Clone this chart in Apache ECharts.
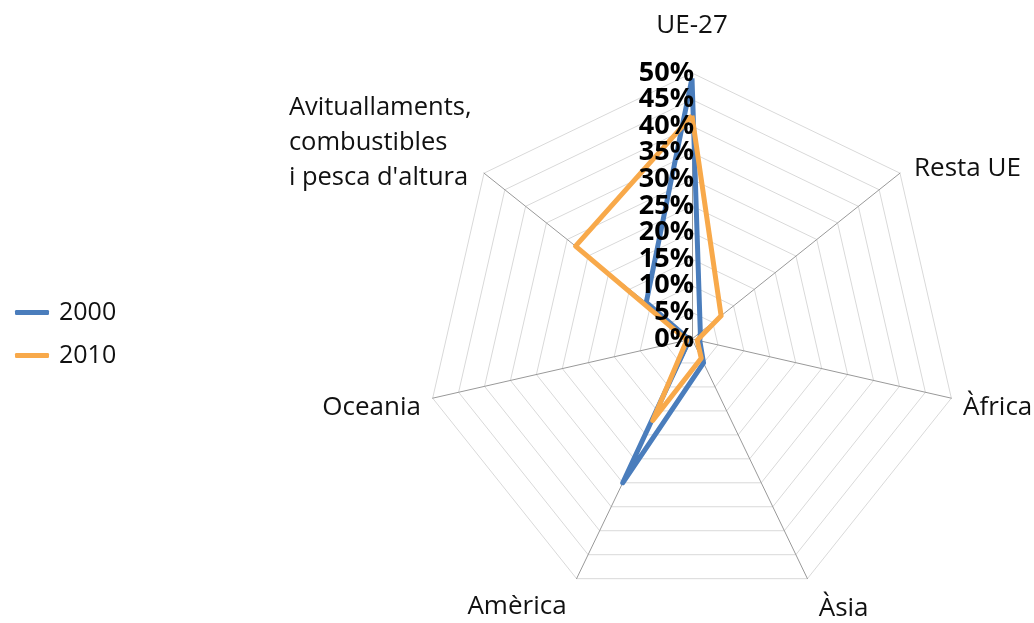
<!DOCTYPE html>
<html>
<head>
<meta charset="utf-8">
<script src="https://cdn.jsdelivr.net/npm/echarts@6/dist/echarts.min.js"></script>
<style>
html,body{margin:0;padding:0;background:#fff;}
#chart{width:1034px;height:623px;}
</style>
</head>
<body>
<div id="chart"></div>
<script>
// eixos en ordre horari, començant per dalt
var categories = ['UE-27', 'Resta UE', 'Àfrica', 'Àsia', 'Amèrica', 'Oceania', "Avituallaments,\ncombustibles\ni pesca d'altura"];
var years = ['2000', '2010'];
var data2000 = [49, 2, 1.5, 5, 30, 0.5, 11];
var data2010 = [42, 7, 1, 4, 17, 1, 28];
var tickMax = 50;
var tickStep = 5;

// distancia del nom a cada vertex (mateix ordre que categories)
var nameGaps = [30, 18, 12, 26, 23, 12, 16];

// echarts posa els indicadors en sentit antihorari: giro l'ordre
function toCcw(arr){
	var out = [arr[0]];
	for(var i=arr.length-1;i>0;i--){
		out.push(arr[i]);
	}
	return out;
}

var cats = toCcw(categories);
var gaps = toCcw(nameGaps);
var indicators = [];
for(var i=0;i<cats.length;i++){
	indicators.push({name:cats[i], min:0, max:tickMax, nameGap:gaps[i]});
}
function labelIndicators(){
	var arr = [];
	for(var i=0;i<cats.length;i++){
		arr.push({name:cats[i], min:0, max:tickMax, axisLabel:{show:i==0}});
	}
	return arr;
}

//nom multilinia alineat a l'esquerra
function nameFormatter(name){
	if(name.indexOf('\n')<0) return name;
	var lines = name.split('\n');
	var out = [];
	for(var j=0;j<lines.length;j++){
		out.push('{l|' + lines[j] + '}');
	}
	// linia buida per pujar el bloc
	return out.join('\n') + '\n{e|}';
}

var myChart = echarts.init(document.getElementById('chart'));
var baseRadar = {
	center:[692,339],
	radius:266,
	startAngle:90,
	splitNumber:tickMax/tickStep,
	shape:'polygon'
};
var labelStyle = {
	show:false,
	color:'#000',
	fontSize:27,
	fontWeight:'bold',
	margin:-2
};

// radar nomes per etiquetes (per sobre de les linies)
function labelRadar(labelOpt){
	return echarts.util.extend({
		indicator:labelIndicators(),
		z:5,
		axisName:{show:false},
		axisLine:{show:false},
		splitLine:{show:false},
		splitArea:{show:false},
		axisTick:{show:false},
		axisLabel:echarts.util.extend(labelOpt, labelStyle)
	}, baseRadar);
}

var option = {
	textStyle:{fontFamily:'Open Sans'},
	legend:{
		orient:'vertical',
		left:10,
		top:295,
		itemGap:18,
		itemWidth:34,
		itemHeight:5,
		icon:'roundRect',
		textStyle:{fontSize:25,color:'#111',fontFamily:'Open Sans',padding:[0,0,0,5]},
		data:years
	},
	radar:[
		echarts.util.extend({
			indicator:indicators,
			z:0,
			axisName:{
				color:'#111',
				fontSize:26,
				lineHeight:35,
				padding:[14,0,0,0],
				fontFamily:'Open Sans',
				formatter:nameFormatter,
				rich:{
					l:{align:'left',fontSize:25.5,lineHeight:35,color:'#111',fontFamily:'Open Sans'},
					e:{fontSize:20,lineHeight:54}
				}
			},
			axisLine:{lineStyle:{color:'#999',width:1}},
			splitLine:{lineStyle:{color:'#d9d9d9',width:1}},
			splitArea:{show:false},
			axisTick:{show:false},
			axisLabel:{show:false}
		}, baseRadar),
		// etiquetes del mig
		labelRadar({
			showMinLabel:false,
			showMaxLabel:false,
			formatter:function(v){return v+'%';}
		}),
		// 0% i 50%
		labelRadar({
			showMinLabel:true,
			showMaxLabel:true,
			formatter:function(v){return (v==0 || v==tickMax) ? v+'%' : '';}
		})
	],
	series:[{
		type:'radar',
		radarIndex:0,
		symbol:'none',
		data:[
			{name:years[0], value:toCcw(data2000), lineStyle:{color:'#4a7dbc',width:5}, itemStyle:{color:'#4a7dbc'}},
			{name:years[1], value:toCcw(data2010), lineStyle:{color:'#f8a94a',width:5}, itemStyle:{color:'#f8a94a'}}
		]
	}]
};
myChart.setOption(option);
</script>
</body>
</html>
